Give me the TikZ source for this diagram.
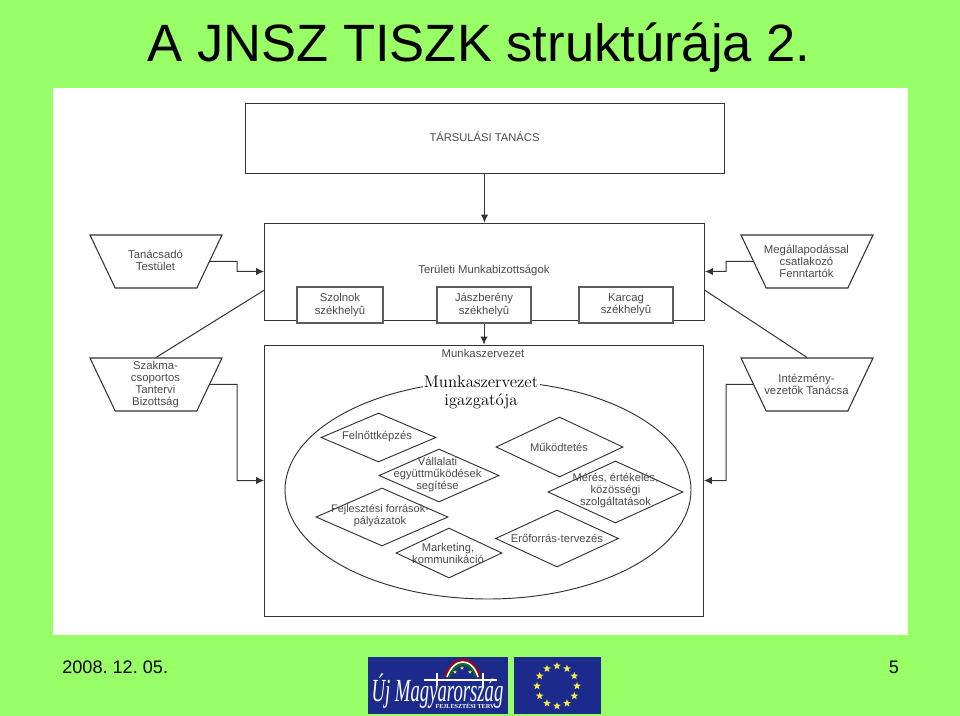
\documentclass[tikz,border=0pt]{standalone}
\usepackage{fontspec}
\usepackage{graphicx}
\usetikzlibrary{shapes.geometric,arrows.meta}
\newfontfamily\arialf{Liberation Sans}
\newfontfamily\logof{Liberation Serif}
\definecolor{slidegreen}{HTML}{99FF66}
\definecolor{inkc}{HTML}{333333}
\definecolor{txtc}{HTML}{4A4A4A}
\definecolor{logoblue}{HTML}{1C2A8C}
\definecolor{staryellow}{HTML}{F4E84A}
\tikzset{
  x=0.75pt,y=-0.75pt,
  wire/.style={draw=inkc,line width=0.75pt},
  arrowwire/.style={wire,-{Latex[length=6pt,width=5.5pt]}},
  bigbox/.style={draw=inkc,line width=0.7pt,fill=white,rectangle,inner sep=0pt},
  smallbox/.style={draw=inkc!80,line width=1pt,fill=white,rectangle,inner sep=0pt,
     minimum height=27pt,text=txtc,font=\arialf\fontsize{8.5}{9.2}\selectfont,align=center},
  trap/.style={draw=inkc,line width=0.8pt,fill=white,trapezium,trapezium stretches=true,
     trapezium angle=69.3,shape border rotate=180,minimum width=99pt,minimum height=39.75pt,inner sep=0pt},
  dmd/.style={draw=inkc,line width=0.7pt,diamond,inner sep=0pt,aspect=1},
  lbl/.style={text=txtc,font=\arialf\fontsize{8.5}{9}\selectfont,align=center,inner sep=0pt},
  dlbl/.style={text=txtc,font=\arialf\fontsize{8.4}{9}\selectfont,align=center,inner sep=0pt},
  eustar/.style={star,star points=5,star point ratio=2.4,fill=staryellow,inner sep=0pt,minimum size=6pt}
}
\begin{document}
\frenchspacing
\begin{tikzpicture}
\useasboundingbox (0,0) rectangle (960,716);
\fill[slidegreen] (0,0) rectangle (960,716);
\fill[white] (53,88) rectangle (908,635);

\node[anchor=base,inner sep=0pt,text=black,font=\arialf\fontsize{39.4}{44}\selectfont] (title) at (479,62) {A JNSZ TISZK struktúrája 2.};

% boxes
\node[bigbox,minimum width=359.25pt,minimum height=52.5pt] (top) at (484.5,138) {};
\node[lbl,font=\arialf\fontsize{8.4}{9}\selectfont] (topt) at (484.5,137) {TÁRSULÁSI TANÁCS};
\node[bigbox,minimum width=330pt,minimum height=72.75pt] (mid) at (484.5,271.5) {};
\node[lbl] (midt) at (484,271) {Területi Munkabizottságok};
\node[bigbox,minimum width=329.25pt,minimum height=203.25pt] (low) at (484,480.5) {};
\node[lbl] (lowt) at (483,353) {Munkaszervezet};

\node[smallbox,minimum width=64.5pt] (szo) at (340,305) {Szolnok\\székhelyû};
\node[smallbox,minimum width=70.5pt] (jas) at (484,305) {Jászberény\\székhelyû};
\node[smallbox,minimum width=70.5pt] (kar) at (626,305) {Karcag\\székhelyû};

% trapezia
\node[trap] (tan) at (156,261.5) {\phantom{x}};
\node[lbl] (tant) at (155.5,260.5) {Tanácsadó\\Testület};
\node[trap] (sza) at (156,384.5) {\phantom{x}};
\node[lbl] (szat) at (155.5,384.5) {Szakma-\\csoportos\\Tantervi\\Bizottság};
\node[trap] (meg) at (807,261.5) {\phantom{x}};
\node[lbl] (megt) at (806.5,261) {Megállapodással\\csatlakozó\\Fenntartók};
\node[trap] (int) at (807,384.5) {\phantom{x}};
\node[lbl] (intt) at (806.5,384) {Intézmény-\\vezetők Tanácsa};

% ellipse
\node[draw=inkc,line width=0.7pt,ellipse,minimum width=304.5pt,minimum height=163.5pt,inner sep=0pt] (ell) at (488,490) {};
\node[fill=white,inner sep=1pt,text=black,align=center,font=\fontsize{12.6}{13.5}\selectfont] (dir) at (481,392.5) {Munkaszervezet\\igazgatója};

% diamonds
\node[dmd,minimum width=86.25pt,minimum height=36.75pt] (d1) at (378.5,437.5) {};
\node[dlbl] (t1) at (377,437) {Felnőttképzés};
\node[dmd,minimum width=90pt,minimum height=39.75pt] (d2) at (439,475.5) {};
\node[dlbl] (t2) at (437.5,475) {Vállalati\\együttműködések\\segítése};
\node[dmd,minimum width=99pt,minimum height=43.5pt] (d3) at (382,517) {};
\node[dlbl,font=\arialf\fontsize{8.2}{9}\selectfont] (t3) at (380,516) {Fejlesztési források-\\pályázatok};
\node[dmd,minimum width=79.5pt,minimum height=37.5pt] (d4) at (449,553) {};
\node[dlbl] (t4) at (448,553) {Marketing,\\kommunikáció};
\node[dmd,minimum width=95.25pt,minimum height=45pt] (d5) at (559.5,447) {};
\node[dlbl] (t5) at (559,447) {Működtetés};
\node[dmd,minimum width=101.25pt,minimum height=46.5pt] (d6) at (615.5,492) {};
\node[dlbl] (t6) at (615.5,491) {Mérés, értékelés,\\közösségi\\szolgáltatások};
\node[dmd,minimum width=92.25pt,minimum height=42.75pt] (d7) at (557,538.5) {};
\node[dlbl] (t7) at (557,538) {Erőforrás-tervezés};

% connectors
\coordinate (eL1) at (237,261.5);
\coordinate (eL2) at (237,384.5);
\coordinate (eR1) at (726,261.5);
\coordinate (eR2) at (726,384.5);
\draw[arrowwire] (top.south) -- (mid.north);
\draw[arrowwire] (jas.south) -- (low.north -| jas.south);
\draw[arrowwire] (tan.east) -- (eL1) |- (mid.west);
\draw[arrowwire] (sza.east) -- (eL2) |- (low.west);
\draw[arrowwire] (meg.west) -- (eR1) |- (mid.east);
\draw[arrowwire] (int.west) -- (eR2) |- (low.east);
\coordinate (aL) at (264.5,290);
\coordinate (aR) at (704.5,290);
\draw[wire] (sza.north) -- (aL);
\draw[wire] (int.north) -- (aR);

% footer
\node[anchor=base west,inner sep=0pt,text=black,font=\arialf\fontsize{13.6}{15}\selectfont] (date) at (62,673) {2008. 12. 05.};
\node[anchor=base,inner sep=0pt,text=black,font=\arialf\fontsize{13.6}{15}\selectfont] (page) at (894,673) {5};

% left logo
\fill[logoblue] (368,657) rectangle (508,714);
\draw[white,line width=0.8pt] (424,680) -- (497,680);
\draw[white,line width=1pt] (437,673) -- (437,686) (483,673) -- (483,686);
\draw[line width=1.4pt,draw=red!70!black] (445,677) .. controls (452,654) and (474,654) .. (480,677);
\draw[line width=1.2pt,draw=white] (447,677) .. controls (454,657) and (472,657) .. (478,677);
\draw[line width=1.2pt,draw=green!50!black] (449,677) .. controls (456,660) and (470,660) .. (476,677);
\foreach \px/\py in {455/672,462/668,470/672}{\node[eustar,minimum size=3pt] (m\px) at (\px,\py) {};}
\node[anchor=base,inner sep=0pt,text=white] (logo) at (437.5,701)
  {\scalebox{0.61}[1.05]{\logof\itshape\fontsize{23}{24}\selectfont Új Magyarország}};
\node[anchor=base,inner sep=0pt,text=white,font=\logof\bfseries\fontsize{4.6}{5}\selectfont] (logob) at (465,708) {FEJLESZTÉSI TERV};

% EU flag
\fill[logoblue] (514,657) rectangle (601,714);
\foreach \a in {0,30,...,330}{\node[eustar] (s\a) at ({557+20*cos(\a)},{686+20*sin(\a)}) {};}
\end{tikzpicture}
\end{document}
